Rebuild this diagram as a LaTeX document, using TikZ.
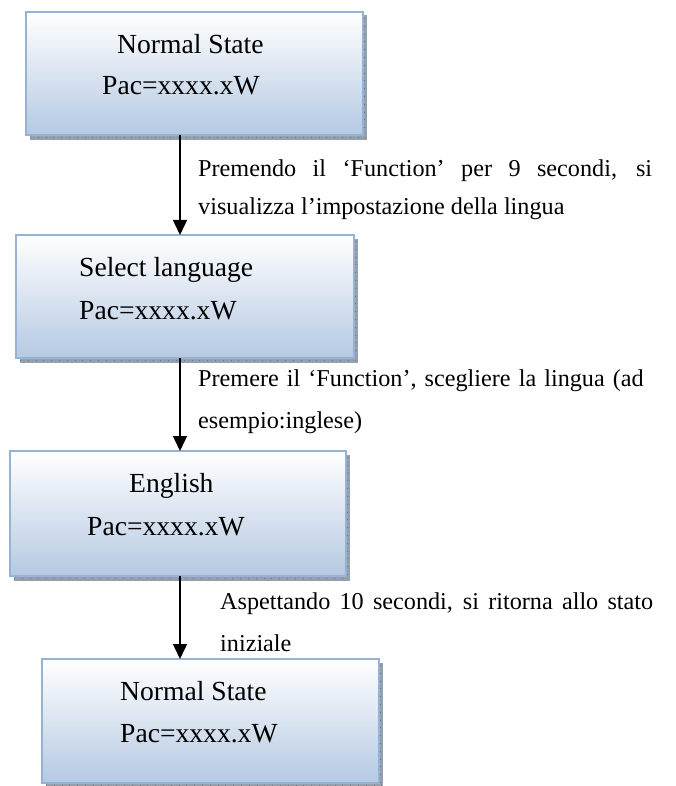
\documentclass[tikz,border=0pt]{standalone}
\usepackage{fontspec}
\setmainfont{Liberation Serif}
\usetikzlibrary{arrows.meta}

\definecolor{boxedge}{RGB}{149,179,215}
\definecolor{boxbottom}{RGB}{181,201,226}
\definecolor{shadowgray}{RGB}{150,160,172}
\definecolor{shadowtick}{RGB}{105,115,128}

\newcommand{\stfont}{\fontsize{27.6}{33}\selectfont}
\newcommand{\lbfont}[1]{\fontsize{24.2}{#1}\selectfont}

\tikzset{
  statebox/.style={rectangle, draw=boxedge, line width=2pt,
    top color=white, bottom color=boxbottom, inner sep=0pt, outer sep=0pt},
  boxshadow/.style={fill=shadowgray, draw=none},
  statetext/.style={anchor=base west, inner sep=0pt, font=\stfont},
  steplabel/.style={anchor=base west, inner sep=0pt},
  flow/.style={line width=1.4pt, -{Triangle[width=14pt,length=15pt]}}
}

% draws the striped shadow strip below and to the right of a box
\newcommand{\stateshadow}[4]{%
  \fill[boxshadow] (#1+3.5,#2+3.5) rectangle (#3+3.5,#4+5);
  \draw[shadowtick, line width=0.8pt, dash pattern=on 0.8pt off 7pt]
    (#1+4,#4+2.5) -- (#3+3,#4+2.5);
  \draw[shadowtick, line width=0.8pt, dash pattern=on 0.8pt off 7pt]
    (#3+1.8,#2+6) -- (#3+1.8,#4);
}

\begin{document}
\begin{tikzpicture}[x=1pt, y=-1pt]
  \useasboundingbox (0,0) rectangle (675,786);

  % shadows
  \stateshadow{26}{12}{363}{135}
  \stateshadow{16}{235}{354}{358}
  \stateshadow{10}{451}{346}{576}
  \stateshadow{42}{659}{379}{783}

  % state boxes
  \node[statebox, minimum width=337pt, minimum height=123pt] (b1) at (194.5,73.5) {};
  \node[statebox, minimum width=338pt, minimum height=123pt] (b2) at (185,296.5) {};
  \node[statebox, minimum width=336pt, minimum height=125pt] (b3) at (178,513.5) {};
  \node[statebox, minimum width=337pt, minimum height=124pt] (b4) at (210.5,721) {};

  % box texts
  \node[statetext] (b1a) at (117,53.3) {Normal State};
  \node[statetext] (b1b) at (102,95) {Pac=xxxx.xW};
  \node[statetext] (b2a) at (79,276) {Select language};
  \node[statetext] (b2b) at (79,319.3) {Pac=xxxx.xW};
  \node[statetext] (b3a) at (129,492.7) {English};
  \node[statetext] (b3b) at (87,535) {Pac=xxxx.xW};
  \node[statetext] (b4a) at (120,700.7) {Normal State};
  \node[statetext] (b4b) at (120,742.7) {Pac=xxxx.xW};

  % connectors
  \coordinate (ax) at (180,0);
  \draw[flow] (b1.south -| ax) -- (b2.north -| ax);
  \draw[flow] (b2.south -| ax) -- (b3.north -| ax);
  \draw[flow] (b3.south -| ax) -- (b4.north -| ax);

  % transition labels
  \node[steplabel, font=\lbfont{38.3}, text width=454pt, align=justify] (l1) at (198,176.7)
    {Premendo il ‘Function’ per 9 secondi, si\linebreak visualizza l’impostazione della lingua};
  \node[steplabel, font=\lbfont{41.7}, text width=460pt, align=left] (l2) at (198,386.7)
    {Premere il ‘Function’, scegliere la lingua (ad\\ esempio:inglese)};
  \node[steplabel, font=\lbfont{42}, text width=433pt, align=justify] (l3) at (220,609)
    {Aspettando 10 secondi, si ritorna allo stato\linebreak iniziale};
\end{tikzpicture}
\end{document}
